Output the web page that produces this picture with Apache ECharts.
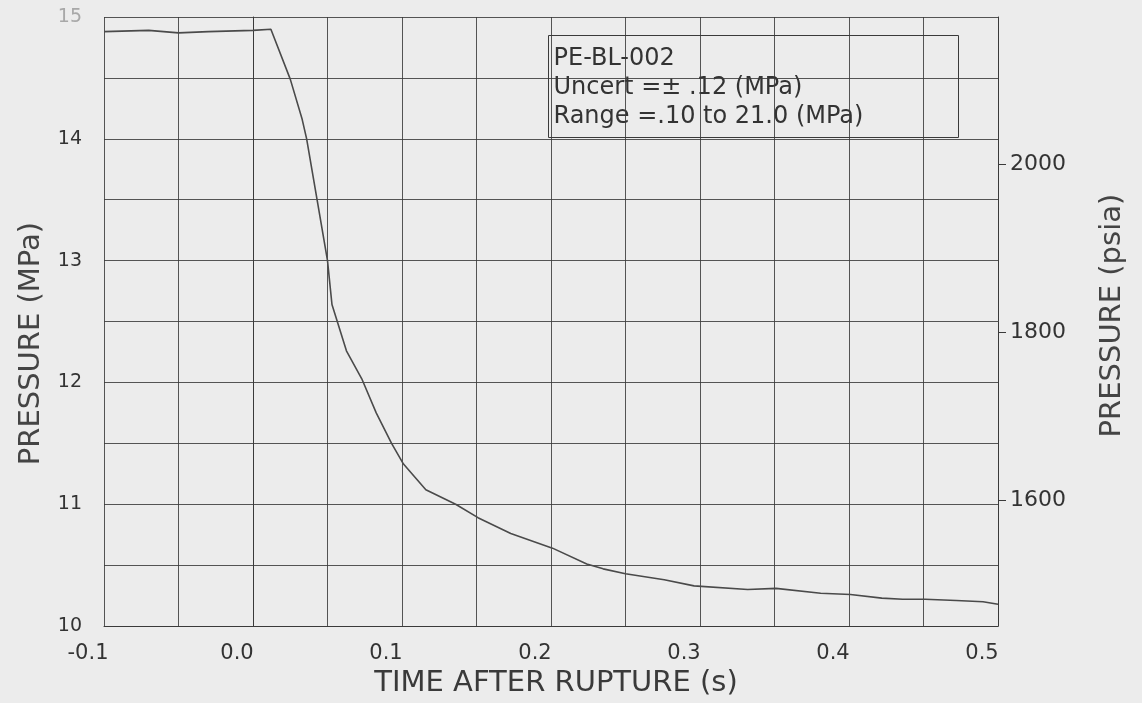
<!DOCTYPE html>
<html>
<head>
<meta charset="utf-8">
<script src="https://cdn.jsdelivr.net/npm/echarts@6/dist/echarts.min.js"></script>
<style>
html,body{margin:0;padding:0;background:#ececec;}
#chart{width:1142px;height:703px;}
</style>
</head>
<body>
<div id="chart"></div>
<script>
// Data
const timeS = [-0.1, -0.07, -0.05, -0.03, 0.0, 0.012, 0.025, 0.033, 0.036, 0.043, 0.05, 0.053, 0.0627, 0.073, 0.0827, 0.093, 0.101, 0.116, 0.136, 0.151, 0.173, 0.201, 0.224, 0.235, 0.25, 0.276, 0.296, 0.332, 0.351, 0.381, 0.401, 0.422, 0.436, 0.451, 0.472, 0.49, 0.5];
const pressureMPa = [14.88, 14.89, 14.87, 14.88, 14.89, 14.90, 14.49, 14.16, 14.0, 13.5, 13.0, 12.64, 12.26, 12.03, 11.75, 11.5, 11.33, 11.12, 11.0, 10.89, 10.76, 10.64, 10.51, 10.47, 10.43, 10.38, 10.33, 10.30, 10.31, 10.27, 10.26, 10.23, 10.22, 10.22, 10.21, 10.20, 10.18];
const psiaTicks = [1600, 1800, 2000];
const noteLines = ['PE-BL-002', 'Uncert =\u00b1 .12 (MPa)', 'Range =.10 to 21.0 (MPa)'];
const xTitle = 'TIME AFTER RUPTURE (s)';
const yTitleLeft = 'PRESSURE (MPa)';
const yTitleRight = 'PRESSURE (psia)';

const MPA_TO_PSI = 145.0377;
const FONT = 'DejaVu Sans';
const lineCol = '#3a3a3a';

const chart = echarts.init(document.getElementById('chart'));
const seriesData = timeS.map((t, i) => [t, pressureMPa[i]]);

chart.setOption({
  backgroundColor: '#ececec',
  animation: false,
  grid: {left: 104, right: 144, top: 17, bottom: 73, containLabel: false},
  xAxis: {
    type: 'value', min: -0.1, max: 0.5, interval: 0.05,
    name: xTitle, nameLocation: 'middle', nameGap: 38,
    nameTextStyle: {fontFamily: FONT, fontSize: 29, color: '#3a3a3a', padding: [0, 0, 0, 10]},
    axisLine: {show: true, lineStyle: {color: lineCol, width: 1}},
    axisTick: {show: false},
    axisLabel: {
      fontFamily: FONT, fontSize: 21, color: '#333', margin: 17,
      padding: [0, 32, 0, 0],
      formatter: v => {
        const k = Math.round(v * 100);
        if (k % 10 !== 0) return '';
        if (k === 0) return '0.0';
        return (k / 100).toFixed(1);
      }
    },
    splitLine: {show: true, lineStyle: {color: lineCol, width: 1, opacity: 0.85}}
  },
  yAxis: [{
    type: 'value', min: 10, max: 15, interval: 0.5,
    name: yTitleLeft, nameLocation: 'middle', nameGap: 58,
    nameTextStyle: {fontFamily: FONT, fontSize: 29, color: '#444', padding: [0, 44, 0, 0]},
    axisLine: {show: true, lineStyle: {color: lineCol, width: 1}},
    axisTick: {show: false},
    axisLabel: {
      fontFamily: FONT, fontSize: 19, color: '#333', margin: 22,
      formatter: v => {
        if (Math.abs(v - Math.round(v)) > 1e-9) return '';
        const r = Math.round(v);
        return r === 15 ? '{f|15}' : String(r);
      },
      rich: {f: {fontFamily: FONT, fontSize: 19, color: '#a8a8a8'}}
    },
    splitLine: {show: true, lineStyle: {color: lineCol, width: 1, opacity: 0.85}}
  }, {
    type: 'value', position: 'right',
    min: 10 * MPA_TO_PSI, max: 15 * MPA_TO_PSI,
    name: yTitleRight, nameLocation: 'middle', nameGap: 100, nameRotate: 90,
    nameTextStyle: {fontFamily: FONT, fontSize: 29, color: '#444', padding: [0, 0, 0, 12]},
    axisLine: {show: true, lineStyle: {color: lineCol, width: 1}},
    axisTick: {show: true, length: 8, customValues: psiaTicks, lineStyle: {color: lineCol}},
    axisLabel: {fontFamily: FONT, fontSize: 22, color: '#333', margin: 12, customValues: psiaTicks,
      formatter: v => String(Math.round(v))},
    splitLine: {show: false}
  }],
  series: [{
    type: 'line', data: seriesData, yAxisIndex: 0,
    showSymbol: false, smooth: false,
    lineStyle: {color: '#4a4a4a', width: 1.6},
    z: 5
  }],
  graphic: [{
    type: 'group', left: 548, top: 35, z: 100,
    children: [
      {type: 'rect', shape: {x: 0, y: 0, width: 410, height: 102},
       style: {fill: '#ececec', stroke: lineCol, lineWidth: 1}},
      {type: 'text', x: 5, y: 23, style: {text: noteLines[0], font: '24px "DejaVu Sans"', fill: '#333', verticalAlign: 'middle'}},
      {type: 'text', x: 5, y: 52, style: {text: noteLines[1], font: '24px "DejaVu Sans"', fill: '#333', verticalAlign: 'middle'}},
      {type: 'text', x: 5, y: 81, style: {text: noteLines[2], font: '24px "DejaVu Sans"', fill: '#333', verticalAlign: 'middle'}}
    ]
  }]
});
</script>
</body>
</html>
